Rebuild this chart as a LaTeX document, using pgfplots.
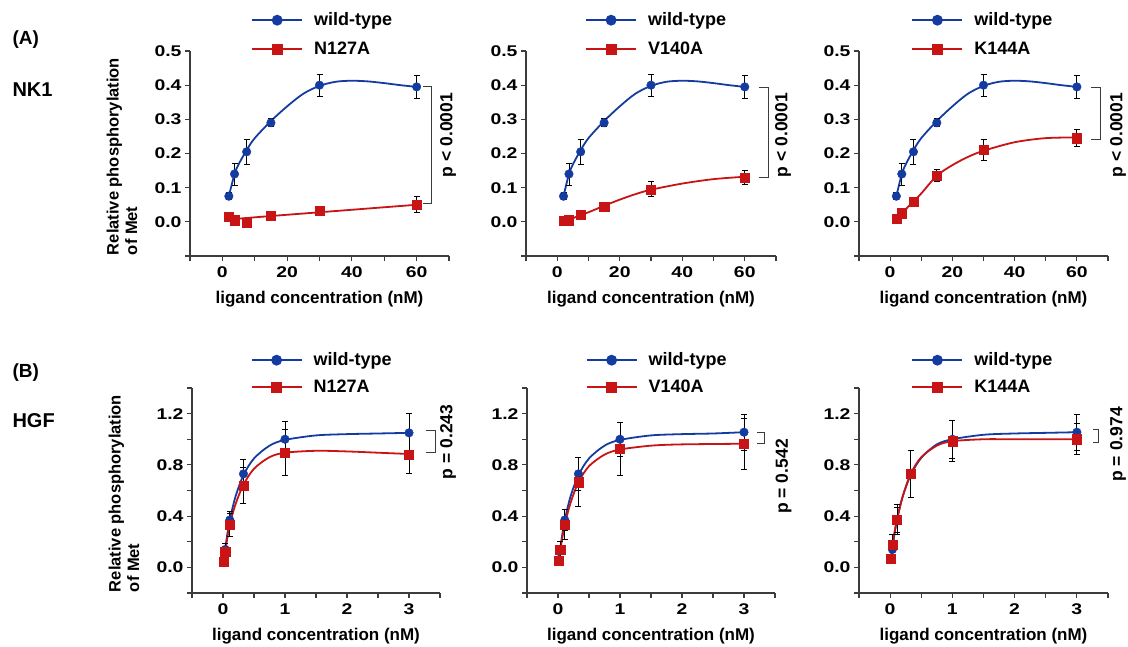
\documentclass[border=0pt]{standalone}
\usepackage{fontspec}
\setmainfont{Liberation Sans}
\newfontfamily\tickfam{Liberation Sans}[FakeStretch=1.25]
\usepackage{pgfplots}
\pgfplotsset{compat=1.18}
\definecolor{wtblue}{RGB}{20,60,160}
\definecolor{mutred}{RGB}{200,20,20}
\definecolor{axgray}{RGB}{60,60,60}
\tikzset{brk/.style={draw=axgray, line width=1pt}}
\newlength{\legh}

\pgfplotsset{
  panel/.style={
    scale only axis, height=205pt,
    axis lines=left, axis line style={-, draw=axgray, line width=1.1pt},
    tick align=outside, major tick length=5pt,
    every tick/.style={draw=axgray, line width=1.1pt},
    clip=false,
    /pgf/number format/assume math mode=true,
    ticklabel style={font=\fontsize{15.5}{17}\tickfam\bfseries},
    xticklabel style={yshift=-2pt},
    every axis x label/.style={at={(axis description cs:0.5,0)}, yshift=-43pt, anchor=center, font=\fontsize{17}{19}\selectfont\bfseries},
    xlabel={ligand concentration (nM)},
    legend cell align=left,
    legend style={draw=none, fill=none, font=\fontsize{18}{20}\selectfont\bfseries, row sep=0pt, column sep=9pt, anchor=north west, inner sep=0pt},
    legend image code/.code={\path[draw=none, fill=none] (0pt,-\legh) -- (0pt,\legh);
      \draw[mark repeat=2,mark phase=2,##1] plot coordinates {(0pt,0pt) (25pt,0pt) (50pt,0pt)};},
  },
  ylab/.style={
    ylabel={Relative phosphorylation\\of Met},
    every axis y label/.style={at={(axis description cs:0,0.5)}, xshift=-68pt, yshift=-3pt, rotate=90, anchor=center, align=left, font=\fontsize{16.5}{18.5}\selectfont\bfseries},
  },
  toprow/.style={panel, xmin=-10, xmax=70, ymin=-0.1, ymax=0.5,
    xtick={-10,0,10,20,30,40,50,60,70}, xticklabels={,0,,20,,40,,60,},
    ytick={-0.1,0,0.1,0.2,0.3,0.4,0.5}, yticklabels={,0.0,0.1,0.2,0.3,0.4,0.5}},
  botrow/.style={panel, xmin=-0.5, xmax=3.5, ymin=-0.2, ymax=1.4,
    xtick={-0.5,0,0.5,1,1.5,2,2.5,3,3.5}, xticklabels={,0,,1,,2,,3,},
    ytick={-0.2,0,0.2,0.4,0.6,0.8,1.0,1.2,1.4}, yticklabels={,0.0,,0.4,,0.8,,1.2,}},
  wtcurve/.style={wtblue, line width=1.8pt, smooth, no marks, forget plot},
  mtcurve/.style={mutred, line width=1.8pt, smooth, no marks, forget plot},
  errs/.style={forget plot, only marks,
    error bars/y dir=both, error bars/y explicit,
    error bars/error mark options={rotate=90, mark size=3pt, black, line width=0.8pt},
    error bars/error bar style={black, line width=0.8pt}},
  wtpts/.style={errs, mark=*, mark size=4.3pt, mark options={draw=wtblue, fill=wtblue}},
  mtpts/.style={errs, mark=square*, mark size=4.6pt, mark options={draw=mutred, fill=mutred}},
  wtleg/.style={wtblue, line width=1.8pt, mark=*, mark size=4.5pt, mark options={fill=wtblue}},
  mtleg/.style={mutred, line width=1.8pt, mark=square*, mark size=4.6pt, mark options={fill=mutred}},
}
\newcommand{\pfont}{\fontsize{17.5}{19}\selectfont\bfseries}

\begin{document}
\begin{tikzpicture}
\useasboundingbox (0,0) rectangle (1128pt,-646pt);

\node[anchor=west, font=\fontsize{19}{21}\selectfont\bfseries] at (9pt,-40pt) {(A)};
\node[anchor=west, font=\fontsize{20}{22}\selectfont\bfseries] at (9pt,-90pt) {NK1};
\node[anchor=west, font=\fontsize{19}{21}\selectfont\bfseries] at (9pt,-373pt) {(B)};
\node[anchor=west, font=\fontsize{20}{22}\selectfont\bfseries] at (9pt,-421pt) {HGF};

\setlength{\legh}{14.5pt}
% ---------- NK1, N127A
\begin{axis}[toprow, ylab, width=259pt, at={(190pt,-256pt)}, anchor=south west,
  legend style={at={(axis description cs:0.236,1.222)}}]
\addlegendimage{wtleg}\addlegendentry{wild-type}
\addlegendimage{mtleg}\addlegendentry{N127A}
\addplot[wtcurve] coordinates {(2,0.075) (3.75,0.14) (5,0.168) (7.5,0.21) (10,0.245) (15,0.295) (20,0.338) (25,0.375) (30,0.398) (35,0.41) (40,0.413) (45,0.411) (50,0.406) (55,0.4) (60,0.395)};
\addplot[mtcurve] coordinates {(2,0.007) (15,0.017) (30,0.028) (45,0.039) (60,0.05)};
\addplot[wtpts] coordinates {(2,0.075) +- (0,0.01) (3.75,0.14) +- (0,0.032) (7.5,0.205) +- (0,0.037) (15,0.29) +- (0,0.012) (30,0.40) +- (0,0.032) (60,0.395) +- (0,0.033)};
\addplot[mtpts] coordinates {(2,0.015) +- (0,0.005) (3.75,0.005) +- (0,0.005) (7.5,-0.003) +- (0,0.008) (15,0.018) +- (0,0.005) (30,0.033) +- (0,0.012) (60,0.05) +- (0,0.023)};
\draw[brk] (axis cs:62,0.395) -- (axis cs:64.5,0.395) -- (axis cs:64.5,0.055) -- (axis cs:62,0.055);
\node[rotate=90, font=\pfont] at (axis cs:69.7,0.254) {p < 0.0001};
\end{axis}

% ---------- NK1, V140A
\begin{axis}[toprow, width=250pt, at={(526pt,-256pt)}, anchor=south west,
  legend style={at={(axis description cs:0.236,1.222)}}]
\addlegendimage{wtleg}\addlegendentry{wild-type}
\addlegendimage{mtleg}\addlegendentry{V140A}
\addplot[wtcurve] coordinates {(2,0.075) (3.75,0.14) (5,0.168) (7.5,0.21) (10,0.245) (15,0.295) (20,0.338) (25,0.375) (30,0.398) (35,0.41) (40,0.413) (45,0.411) (50,0.406) (55,0.4) (60,0.395)};
\addplot[mtcurve] coordinates {(2,0.003) (3.75,0.006) (7.5,0.02) (10,0.028) (15,0.047) (20,0.065) (25,0.081) (30,0.094) (40,0.112) (50,0.125) (60,0.132)};
\addplot[wtpts] coordinates {(2,0.075) +- (0,0.01) (3.75,0.14) +- (0,0.032) (7.5,0.205) +- (0,0.037) (15,0.29) +- (0,0.012) (30,0.40) +- (0,0.032) (60,0.395) +- (0,0.033)};
\addplot[mtpts] coordinates {(2,0.003) +- (0,0.003) (3.75,0.005) +- (0,0.003) (7.5,0.02) +- (0,0.005) (15,0.045) +- (0,0.013) (30,0.095) +- (0,0.022) (60,0.13) +- (0,0.02)};
\draw[brk] (axis cs:64.5,0.393) -- (axis cs:67.7,0.393) -- (axis cs:67.7,0.13) -- (axis cs:64.5,0.13);
\node[rotate=90, font=\pfont] at (axis cs:72.3,0.254) {p < 0.0001};
\end{axis}

% ---------- NK1, K144A
\begin{axis}[toprow, width=249pt, at={(859pt,-256pt)}, anchor=south west,
  legend style={at={(axis description cs:0.21,1.222)}}]
\addlegendimage{wtleg}\addlegendentry{wild-type}
\addlegendimage{mtleg}\addlegendentry{K144A}
\addplot[wtcurve] coordinates {(2,0.075) (3.75,0.14) (5,0.168) (7.5,0.21) (10,0.245) (15,0.295) (20,0.338) (25,0.375) (30,0.398) (35,0.41) (40,0.413) (45,0.411) (50,0.406) (55,0.4) (60,0.395)};
\addplot[mtcurve] coordinates {(2,0.01) (3.75,0.025) (7.5,0.06) (10,0.083) (15,0.135) (20,0.166) (25,0.19) (30,0.208) (40,0.233) (50,0.245) (60,0.247)};
\addplot[wtpts] coordinates {(2,0.075) +- (0,0.01) (3.75,0.14) +- (0,0.032) (7.5,0.205) +- (0,0.037) (15,0.29) +- (0,0.012) (30,0.40) +- (0,0.032) (60,0.395) +- (0,0.033)};
\addplot[mtpts] coordinates {(2,0.01) +- (0,0.003) (3.75,0.025) +- (0,0.005) (7.5,0.06) +- (0,0.006) (15,0.135) +- (0,0.018) (30,0.21) +- (0,0.03) (60,0.245) +- (0,0.025)};
\draw[brk] (axis cs:64.5,0.393) -- (axis cs:67.7,0.393) -- (axis cs:67.7,0.24) -- (axis cs:64.5,0.24);
\node[rotate=90, font=\pfont] at (axis cs:73.2,0.254) {p < 0.0001};
\end{axis}

\setlength{\legh}{13.5pt}
% ---------- HGF, N127A
\begin{axis}[botrow, ylab, width=248pt, at={(192pt,-593pt)}, anchor=south west,
  legend style={at={(axis description cs:0.236,1.2025)}}]
\addlegendimage{wtleg}\addlegendentry{wild-type}
\addlegendimage{mtleg}\addlegendentry{N127A}
\addplot[wtcurve] coordinates {(0.012,0.06) (0.037,0.15) (0.07,0.26) (0.11,0.37) (0.2,0.55) (0.33,0.72) (0.5,0.85) (0.75,0.95) (1,0.995) (1.5,1.03) (2,1.04) (2.5,1.045) (3,1.05)};
\addplot[mtcurve] coordinates {(0.012,0.045) (0.037,0.125) (0.07,0.23) (0.11,0.335) (0.2,0.49) (0.33,0.645) (0.5,0.77) (0.75,0.86) (1,0.895) (1.5,0.91) (2,0.905) (2.5,0.895) (3,0.885)};
\addplot[wtpts] coordinates {(0.012,0.06) +- (0,0.02) (0.037,0.14) +- (0,0.05) (0.11,0.37) +- (0,0.07) (0.33,0.73) +- (0,0.11) (1,1.0) +- (0,0.14) (3,1.05) +- (0,0.15)};
\addplot[mtpts] coordinates {(0.012,0.045) +- (0,0.02) (0.037,0.125) +- (0,0.03) (0.11,0.335) +- (0,0.09) (0.33,0.64) +- (0,0.14) (1,0.895) +- (0,0.18) (3,0.88) +- (0,0.15)};
\draw[brk] (axis cs:3.27,1.07) -- (axis cs:3.42,1.07) -- (axis cs:3.42,0.9) -- (axis cs:3.27,0.9);
\node[rotate=90, font=\pfont] at (axis cs:3.63,0.98) {p = 0.243};
\end{axis}

% ---------- HGF, V140A
\begin{axis}[botrow, width=248pt, at={(527pt,-593pt)}, anchor=south west,
  legend style={at={(axis description cs:0.236,1.2025)}}]
\addlegendimage{wtleg}\addlegendentry{wild-type}
\addlegendimage{mtleg}\addlegendentry{V140A}
\addplot[wtcurve] coordinates {(0.012,0.06) (0.037,0.15) (0.07,0.26) (0.11,0.37) (0.2,0.55) (0.33,0.72) (0.5,0.85) (0.75,0.95) (1,0.995) (1.5,1.03) (2,1.04) (2.5,1.045) (3,1.055)};
\addplot[mtcurve] coordinates {(0.012,0.055) (0.037,0.14) (0.07,0.23) (0.11,0.335) (0.2,0.5) (0.33,0.665) (0.5,0.79) (0.75,0.88) (1,0.92) (1.5,0.95) (2,0.96) (3,0.965)};
\addplot[wtpts] coordinates {(0.012,0.06) +- (0,0.02) (0.037,0.14) +- (0,0.06) (0.11,0.37) +- (0,0.08) (0.33,0.73) +- (0,0.13) (1,1.0) +- (0,0.13) (3,1.055) +- (0,0.14)};
\addplot[mtpts] coordinates {(0.012,0.055) +- (0,0.02) (0.037,0.14) +- (0,0.06) (0.11,0.335) +- (0,0.12) (0.33,0.665) +- (0,0.19) (1,0.925) +- (0,0.21) (3,0.965) +- (0,0.2)};
\draw[brk] (axis cs:3.21,1.05) -- (axis cs:3.33,1.05) -- (axis cs:3.33,0.965) -- (axis cs:3.21,0.965);
\node[rotate=90, font=\pfont] at (axis cs:3.64,0.71) {p = 0.542};
\end{axis}

% ---------- HGF, K144A
\begin{axis}[botrow, width=249pt, at={(859pt,-593pt)}, anchor=south west,
  legend style={at={(axis description cs:0.21,1.2025)}}]
\addlegendimage{wtleg}\addlegendentry{wild-type}
\addlegendimage{mtleg}\addlegendentry{K144A}
\addplot[wtcurve] coordinates {(0.012,0.06) (0.037,0.15) (0.07,0.26) (0.11,0.37) (0.2,0.55) (0.33,0.72) (0.5,0.855) (0.75,0.96) (1,1.0) (1.5,1.035) (2,1.045) (2.5,1.05) (3,1.055)};
\addplot[mtcurve] coordinates {(0.012,0.07) (0.037,0.17) (0.07,0.27) (0.11,0.375) (0.2,0.55) (0.33,0.73) (0.5,0.86) (0.75,0.95) (1,0.985) (1.5,1.0) (2,1.0) (3,1.0)};
\addplot[wtpts] coordinates {(0.012,0.06) +- (0,0.02) (0.037,0.14) +- (0,0.07) (0.11,0.37) +- (0,0.1) (0.33,0.73) +- (0,0.18) (1,1.0) +- (0,0.15) (3,1.055) +- (0,0.14)};
\addplot[mtpts] coordinates {(0.012,0.07) +- (0,0.02) (0.037,0.175) +- (0,0.08) (0.11,0.375) +- (0,0.12) (0.33,0.73) +- (0,0.18) (1,0.985) +- (0,0.16) (3,1.0) +- (0,0.12)};
\draw[brk] (axis cs:3.26,1.075) -- (axis cs:3.35,1.075) -- (axis cs:3.35,0.975) -- (axis cs:3.26,0.975);
\node[rotate=90, font=\pfont] at (axis cs:3.66,0.96) {p = 0.974};
\end{axis}
\end{tikzpicture}
\end{document}
